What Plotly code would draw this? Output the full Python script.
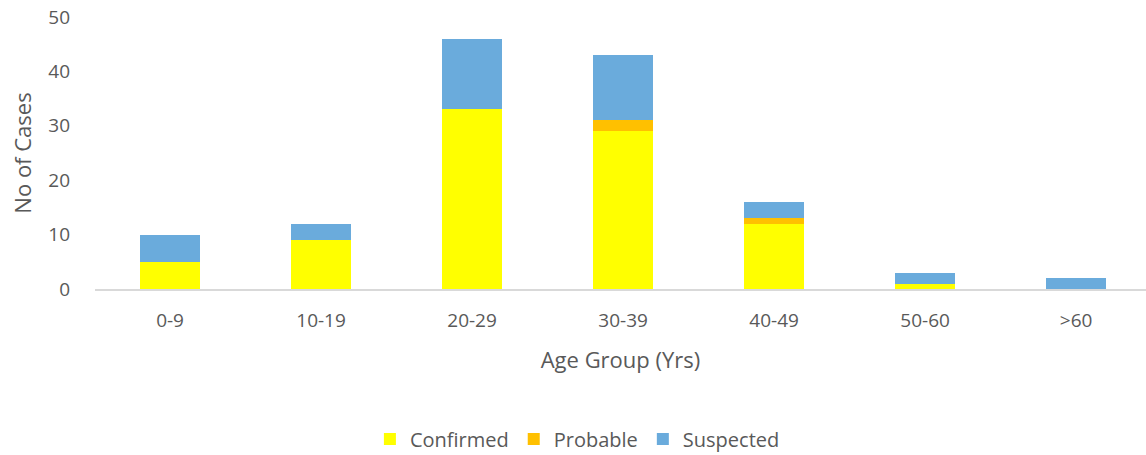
import plotly.graph_objects as go

categories = ["0-9", "10-19", "20-29", "30-39", "40-49", "50-60", ">60"]
confirmed = [5, 9, 33, 29, 12, 1, 0]
probable = [0, 0, 0, 2, 1, 0, 0]
suspected = [5, 3, 13, 12, 3, 2, 2]

font_family = "Open Sans, Liberation Sans, sans-serif"
text_color = "#595959"

fig = go.Figure()
fig.add_bar(x=categories, y=confirmed, name="Confirmed", marker_color="#FFFF00", marker_line_width=0)
fig.add_bar(x=categories, y=probable, name="Probable", marker_color="#FFC000", marker_line_width=0)
fig.add_bar(x=categories, y=suspected, name="Suspected", marker_color="#6AABDC", marker_line_width=0)

fig.update_layout(
    barmode="stack",
    bargap=0.6,
    width=1146,
    height=455,
    margin=dict(l=95, r=0, t=17, b=166, autoexpand=False),
    plot_bgcolor="white",
    paper_bgcolor="white",
    font=dict(family=font_family, size=19, color=text_color),
    legend=dict(
        orientation="h",
        x=0.459, xanchor="center",
        y=-0.48, yanchor="top",
        font=dict(size=20, color=text_color),
        traceorder="normal",
        itemwidth=30,
    ),
    xaxis=dict(
        title=dict(text="Age Group (Yrs)", font=dict(size=22, color=text_color), standoff=21),
        range=[-0.497, 6.463],
        showline=True, linecolor="#D9D9D9", linewidth=2,
        ticks="", tickfont=dict(size=19, color=text_color),
        ticklabelstandoff=13,
        showgrid=False, automargin=False,
    ),
    yaxis=dict(
        title=dict(text="No of Cases", font=dict(size=22, color=text_color), standoff=10),
        range=[0, 50], dtick=10,
        showgrid=False, zeroline=False, showline=False,
        tickfont=dict(size=19, color=text_color),
        ticks="", ticklabelstandoff=24, automargin=False,
    ),
)

fig.write_html("out.html", post_script="document.body.style.margin='0';",
               config={"displayModeBar": False})
